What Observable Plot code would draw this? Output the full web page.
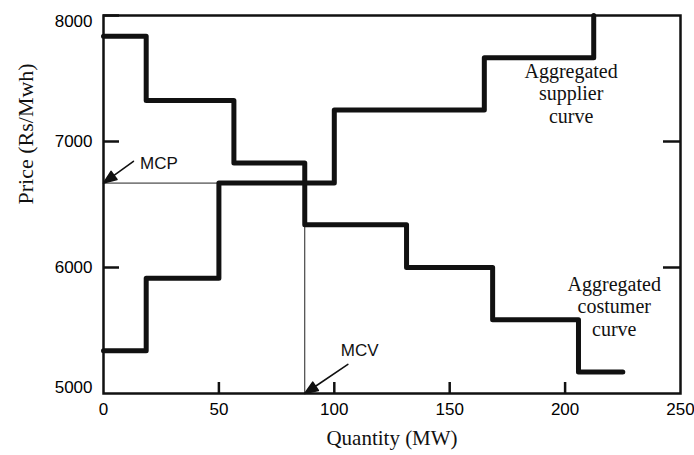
<!DOCTYPE html>
<html><head><meta charset="utf-8">
<script src="https://cdn.jsdelivr.net/npm/d3@7"></script>
<script src="https://cdn.jsdelivr.net/npm/@observablehq/plot@0.6"></script>
<style>body{margin:0;background:#fff}</style>
</head><body><div id="chart"></div>
<script>
// Aggregated costumer (demand) curve: quantity where each step starts, price of that step
const consumerQty = [0, 18.5, 56.5, 87.2, 131.3, 168.6, 205.8, 225];
const consumerPrice = [7835, 7325, 6830, 6340, 6000, 5585, 5170, 5170];
// Aggregated supplier curve
const supplierQty = [0, 18.5, 50, 100, 165, 212.4];
const supplierPrice = [5340, 5915, 6670, 7250, 7665, 8000];
// Market clearing point
const mcp = 6670;
const mcv = 87.2;
// Axis ticks
const xTicks = [0, 50, 100, 150, 200, 250];
const yTicks = [5000, 6000, 7000, 8000];
const yTicksRight = [6000, 7000];
// Text labels
const supplierLabel = {q: 202.6, p: 7384, text: "Aggregated\nsupplier\ncurve"};
const consumerLabel = {q: 221.3, p: 5694, text: "Aggregated\ncostumer\ncurve"};
const mcpLabel = {q: 15.8, p: 6782, text: "MCP"};
const mcvLabel = {q: 102.8, p: 5300, text: "MCV"};

const consumer = consumerQty.map((q, i) => ({q, p: consumerPrice[i]}));
const supplier = supplierQty.map((q, i) => ({q, p: supplierPrice[i]}));
const clearing = [{q: 0, p: mcp}, {q: mcv, p: mcp}, {q: mcv, p: yTicks[0]}];

const W = 694, H = 455, mL = 103, mR = 14, mT = 15, mB = 62;
const plotW = W - mL - mR, plotH = H - mT - mB;
const serif = "'Liberation Serif', 'Times New Roman', serif";
const sans = "'Liberation Sans', Arial, sans-serif";
const fmt = d3.format("d");

const arrowHead = {draw(ctx, l) {
  const h = 13, w = 5;
  ctx.moveTo(0, 0); ctx.lineTo(0, -l + h);
  ctx.moveTo(0, -l); ctx.lineTo(-w, -l + h); ctx.lineTo(w, -l + h); ctx.closePath();
}};

const chart = Plot.plot({
  width: W, height: H,
  marginLeft: mL, marginRight: mR, marginTop: mT, marginBottom: mB,
  x: {domain: [0, 250]},
  y: {domain: [5000, 8000]},
  style: {background: "white", color: "black", fontFamily: sans},
  marks: [
    Plot.line(clearing, {x: "q", y: "p", stroke: "#222", strokeWidth: 1}),
    Plot.line(consumer, {x: "q", y: "p", curve: "step-after", stroke: "#111", strokeWidth: 5}),
    Plot.line(supplier, {x: "q", y: "p", curve: "step-after", stroke: "#111", strokeWidth: 5}),
    Plot.frame({stroke: "#111", strokeWidth: 2.5}),
    // inward ticks
    Plot.ruleY(yTicks.slice(1), {stroke: "#111", strokeWidth: 2.5, insetRight: plotW - 16}),
    Plot.ruleY(yTicksRight, {stroke: "#111", strokeWidth: 2.5, insetLeft: plotW - 17}),
    Plot.ruleX(xTicks.slice(1, -1), {stroke: "#111", strokeWidth: 2.5, insetTop: plotH - 11}),
    // tick labels
    Plot.axisX(xTicks, {tickSize: 0, tickPadding: 9, fontSize: 17, label: null, tickFormat: fmt}),
    Plot.axisY(yTicks.slice(1, 3), {tickSize: 0, tickPadding: 11, fontSize: 17, label: null, tickFormat: fmt}),
    Plot.axisY([yTicks[3]], {tickSize: 0, tickPadding: 11, fontSize: 17, label: null, tickFormat: fmt, dy: 6}),
    Plot.axisY([yTicks[0]], {tickSize: 0, tickPadding: 11, fontSize: 17, label: null, tickFormat: fmt, dy: -6}),
    // axis titles
    Plot.text(["Price (Rs/Mwh)"], {text: d => d, frameAnchor: "left", rotate: -90, dx: -78, fontFamily: serif, fontSize: 22, fill: "#111"}),
    Plot.text(["Quantity (MW)"], {text: d => d, frameAnchor: "bottom", dy: 51, fontFamily: serif, fontSize: 21, fill: "#111"}),
    // curve labels
    Plot.text([supplierLabel, consumerLabel], {x: "q", y: "p", text: "text", fontFamily: serif, fontSize: 20, lineHeight: 1.12, fill: "#111"}),
    // MCP / MCV annotations
    Plot.text([mcpLabel, mcvLabel], {x: "q", y: "p", text: "text", textAnchor: "start", lineAnchor: "bottom", fontFamily: sans, fontSize: 17, fill: "#111"}),
    Plot.vector([{q: 0, p: mcp}], {x: "q", y: "p", anchor: "end", length: 37, rotate: -126, shape: arrowHead, fill: "#111", stroke: "#111", strokeWidth: 1.6}),
    Plot.vector([{q: mcv, p: yTicks[0]}], {x: "q", y: "p", anchor: "end", length: 52, rotate: -124, shape: arrowHead, fill: "#111", stroke: "#111", strokeWidth: 1.6})
  ]
});
document.getElementById("chart").appendChild(chart);
</script>
</body></html>
